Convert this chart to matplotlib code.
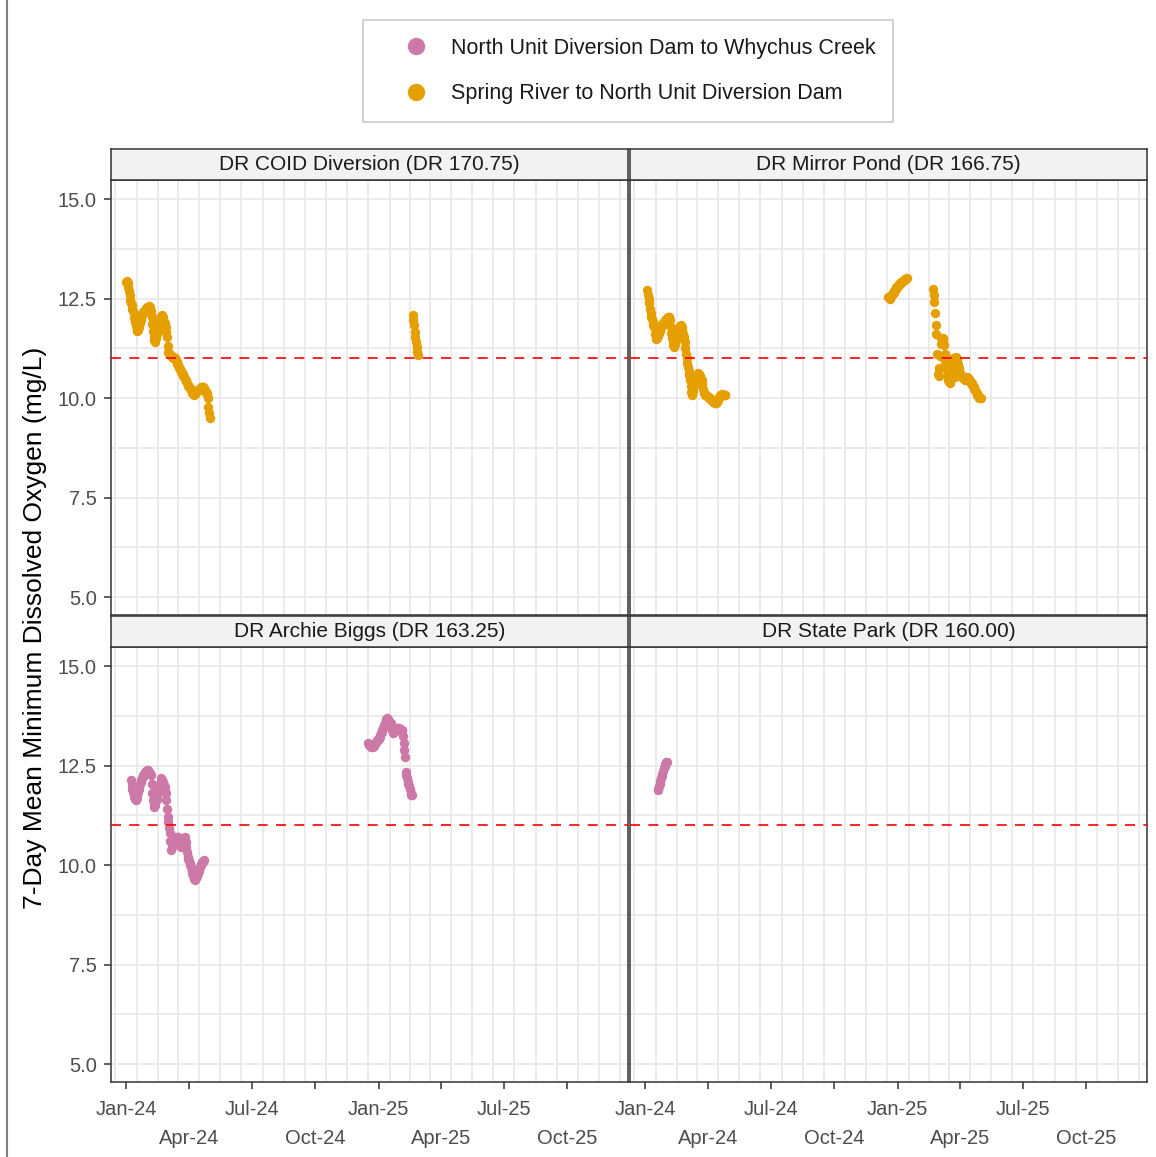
import matplotlib
matplotlib.use('Agg')
import matplotlib.pyplot as plt
from matplotlib.lines import Line2D
from matplotlib.ticker import FixedLocator
import matplotlib.dates as mdates
import pandas as pd

plt.rcParams['font.family'] = ['Liberation Sans', 'DejaVu Sans']

# reaches and colours
reach_nud = 'North Unit Diversion Dam to Whychus Creek'
reach_spr = 'Spring River to North Unit Diversion Dam'
reach_colors = {reach_nud: '#CC79A7', reach_spr: '#E69F00'}

site_names = ['DR COID Diversion (DR 170.75)', 'DR Mirror Pond (DR 166.75)',
              'DR Archie Biggs (DR 163.25)', 'DR State Park (DR 160.00)']
site_reach = [reach_spr, reach_spr, reach_nud, reach_nud]

do_criterion = 11.0

# 7-day mean minimum DO (mg/L), one list per run of consecutive days
coid_2024_start = '2024-01-01'
coid_2024 = [12.92, 12.95, 12.88, 12.80, 12.70, 12.58, 12.46, 12.40, 12.33, 12.25, 12.18,
             12.13, 12.02, 11.90, 11.80, 11.71, 11.68, 11.72, 11.78, 11.84, 11.88,
             11.95, 12.02, 12.08, 12.12, 12.16, 12.19, 12.21, 12.24, 12.27, 12.28,
             12.30, 12.29, 12.31, 12.27, 12.29, 12.20, 12.04, 11.85, 11.68, 11.54,
             11.45, 11.41, 11.50, 11.60, 11.68, 11.74, 11.79, 11.86, 11.94, 12.02,
             12.06, 12.09, 12.05, 11.98, 11.92, 11.88, 11.78, 11.66, 11.54, 11.32,
             11.16, 11.12, 11.10, 11.08, 11.05, 11.06, 11.03, 11.01, 11.00, 11.02,
             11.00, 10.95, 10.90, 10.86, 10.82, 10.79, 10.76, 10.72, 10.69, 10.66,
             10.63, 10.60, 10.56, 10.52, 10.48, 10.45, 10.42, 10.38, 10.34, 10.31,
             10.28, 10.26, 10.25, 10.20, 10.16, 10.12, 10.10, 10.08, 10.10, 10.13,
             10.15, 10.17, 10.19, 10.20, 10.20, 10.22, 10.24, 10.25, 10.27, 10.28,
             10.29, 10.28, 10.25, 10.20, 10.16, 10.14, 10.12, 10.00, 9.78, 9.62, 9.50]
coid_2025_start = '2025-02-19'
coid_2025 = [12.09, 11.96, 11.83, 11.67, 11.54, 11.41, 11.29, 11.16, 11.08]

mirror_2024_start = '2024-01-04'
mirror_2024 = [12.71, 12.60, 12.48, 12.38, 12.25, 12.13, 12.05, 11.98, 11.90, 11.84,
               11.79, 11.62, 11.50, 11.48, 11.52, 11.56, 11.60, 11.63, 11.68, 11.73,
               11.78, 11.82, 11.86, 11.89, 11.91, 11.92, 11.95, 11.97, 12.00, 12.02,
               12.03, 12.04, 12.04, 11.95, 11.79, 11.64, 11.52, 11.42, 11.34, 11.29,
               11.36, 11.45, 11.55, 11.64, 11.71, 11.75, 11.78, 11.80, 11.82, 11.83,
               11.78, 11.70, 11.62, 11.54, 11.40, 11.26, 11.12, 11.00, 10.87, 10.78,
               10.68, 10.57, 10.45, 10.30, 10.15, 10.08, 10.18, 10.30, 10.40, 10.45,
               10.48, 10.52, 10.56, 10.60, 10.62, 10.60, 10.56, 10.52, 10.48, 10.45,
               10.35, 10.22, 10.12, 10.10, 10.08, 10.07, 10.06, 10.05, 10.04, 10.03,
               10.01, 9.99, 9.97, 9.95, 9.93, 9.91, 9.90, 9.89, 9.88, 9.87,
               9.87, 9.90, 9.94, 9.98, 10.02, 10.06, 10.08, 10.09, 10.10, 10.09,
               10.08, 10.07, 10.08, 10.08]
mirror_winter_start = '2024-12-18'
mirror_winter = [12.55, 12.52, 12.50, 12.54, 12.57, 12.60, 12.62, 12.63, 12.65, 12.68,
                 12.72, 12.75, 12.78, 12.80, 12.82, 12.84, 12.86, 12.88, 12.90, 12.92,
                 12.92, 12.94, 12.95, 12.97, 12.98, 13.00, 12.99, 13.01]
mirror_2025_start = '2025-02-21'
mirror_2025 = [12.73, 12.58, 12.42, 12.13, 11.83, 11.60, 11.10, 10.60, 10.55, 10.75,
               11.05, 11.35, 11.50, 11.48, 11.52, 11.45, 11.33, 11.10, 10.92, 10.85,
               10.70, 10.55, 10.45, 10.40, 10.37, 10.45, 10.60, 10.80, 10.95, 11.00,
               10.90, 10.65, 10.52, 10.80, 11.04, 10.98, 10.85, 10.75, 10.70, 10.62,
               10.58, 10.55, 10.54, 10.52, 10.50, 10.48, 10.46, 10.47, 10.50, 10.52,
               10.50, 10.49, 10.48, 10.44, 10.40, 10.38, 10.37, 10.34, 10.30, 10.27,
               10.24, 10.20, 10.16, 10.12, 10.08, 10.05, 10.03, 10.01, 10.00, 9.99]

biggs_2024_start = '2024-01-08'
biggs_2024 = [12.14, 12.02, 11.92, 11.84, 11.78, 11.72, 11.66, 11.63, 11.68, 11.75,
              11.84, 11.92, 11.97, 12.03, 12.08, 12.13, 12.18, 12.22, 12.26, 12.30,
              12.33, 12.35, 12.37, 12.38, 12.39, 12.37, 12.34, 12.31, 12.29, 12.26,
              12.05, 11.82, 11.63, 11.52, 11.46, 11.52, 11.60, 11.66, 11.73, 11.80,
              11.88, 11.97, 12.05, 12.12, 12.18, 12.14, 12.10, 12.05, 12.01, 11.97,
              11.80, 11.63, 11.42, 11.21, 11.08, 10.94, 10.80, 10.60, 10.38, 10.45,
              10.52, 10.58, 10.61, 10.63, 10.66, 10.68, 10.70, 10.71, 10.71, 10.66,
              10.60, 10.54, 10.50, 10.46, 10.50, 10.56, 10.62, 10.68, 10.71, 10.58,
              10.45, 10.33, 10.21, 10.15, 10.10, 10.05, 10.00, 9.96, 9.88, 9.80,
              9.72, 9.66, 9.62, 9.64, 9.68, 9.72, 9.76, 9.79, 9.84, 9.89,
              9.94, 9.99, 10.04, 10.07, 10.09, 10.11, 10.13]
biggs_winter_start = '2024-12-17'
biggs_winter = [13.06, 13.02, 12.98, 12.96, 12.99, 13.02, 12.99, 12.97, 13.00, 13.04,
                13.07, 13.10, 13.12, 13.14, 13.16, 13.18, 13.22, 13.27, 13.31, 13.35,
                13.40, 13.44, 13.47, 13.52, 13.57, 13.62, 13.66, 13.69, 13.67, 13.63,
                13.60, 13.58, 13.56, 13.48, 13.40, 13.34, 13.31, 13.34, 13.38, 13.41,
                13.43, 13.44, 13.45, 13.45, 13.44, 13.43, 13.42, 13.40, 13.39, 13.39,
                13.25, 13.06, 12.90, 12.72, 12.34, 12.26, 12.18, 12.10, 12.05, 11.98,
                11.90, 11.82, 11.76, 11.76]

statepark_2024_start = '2024-01-19'
statepark_2024 = [11.88, 11.92, 11.98, 12.05, 12.12, 12.18, 12.24, 12.30, 12.36, 12.43,
                  12.48, 12.54, 12.58, 12.60]

site_runs = [
    [(coid_2024_start, coid_2024), (coid_2025_start, coid_2025)],
    [(mirror_2024_start, mirror_2024), (mirror_winter_start, mirror_winter),
     (mirror_2025_start, mirror_2025)],
    [(biggs_2024_start, biggs_2024), (biggs_winter_start, biggs_winter)],
    [(statepark_2024_start, statepark_2024)],
]

W, H = 1156, 1157
fig = plt.figure(figsize=(W / 100, H / 100), dpi=100)


def fbox(x0, y0, x1, y1):
    # pixel box (top-left origin) -> figure fraction rect
    return [x0 / W, 1 - y1 / H, (x1 - x0) / W, (y1 - y0) / H]


panel_px = [(111, 180, 628, 615), (630, 180, 1147, 615),
            (111, 647, 628, 1082), (630, 647, 1147, 1082)]

x_lo, x_hi = pd.Timestamp('2023-12-10'), pd.Timestamp('2025-12-28')
qtr_ticks = pd.date_range('2024-01-01', '2025-10-01', freq='QS')
qtr_labels = [d.strftime('%b-%y') if i % 2 == 0 else '\n' + d.strftime('%b-%y')
              for i, d in enumerate(qtr_ticks)]
month_starts = pd.date_range('2023-11-01', '2026-01-01', freq='MS')
month_mids = month_starts[:-1] + (month_starts[1:] - month_starts[:-1]) / 2
y_major = [5.0, 7.5, 10.0, 12.5, 15.0]
y_minor = [6.25, 8.75, 11.25, 13.75]

for i, (x0, y0, x1, y1) in enumerate(panel_px):
    ax = fig.add_axes(fbox(x0, y0, x1, y1))
    col = reach_colors[site_reach[i]]
    for start, vals in site_runs[i]:
        dates = pd.date_range(start, periods=len(vals), freq='D')
        ax.scatter(dates, vals, s=46, color=col, linewidths=0, zorder=3)
    ax.axhline(do_criterion, color='red', lw=1.2, ls=(0, (6, 5)), zorder=4)

    ax.set_xlim(x_lo, x_hi)
    ax.set_ylim(4.55, 15.48)
    ax.set_xticks(qtr_ticks)
    ax.set_xticklabels(qtr_labels, linespacing=1.62)
    ax.xaxis.set_minor_locator(FixedLocator(mdates.date2num(month_mids)))
    ax.set_yticks(y_major)
    ax.set_yticklabels([f'{v:.1f}' for v in y_major])
    ax.yaxis.set_minor_locator(FixedLocator(y_minor))
    ax.grid(False)
    ax.grid(True, which='minor', axis='x', color='#E8E8E8', lw=1.2)
    ax.grid(True, which='both', axis='y', color='#E8E8E8', lw=1.2)
    ax.set_axisbelow(True)
    ax.tick_params(which='major', length=4.8, width=1.1, color='#333333',
                   labelcolor='#4D4D4D', labelsize=14.5, pad=5.5)
    ax.tick_params(axis='x', which='major', pad=8.5)
    ax.tick_params(which='minor', length=0)
    if i % 2 == 1:
        ax.tick_params(left=False, labelleft=False)
    if i < 2:
        ax.tick_params(bottom=False, labelbottom=False)
    for sp in ax.spines.values():
        sp.set_color('#333333')
        sp.set_linewidth(1.1)

    # facet strip
    sax = fig.add_axes(fbox(x0, y0 - 31, x1, y0))
    sax.set_facecolor('#F2F2F2')
    sax.set_xticks([])
    sax.set_yticks([])
    for sp in sax.spines.values():
        sp.set_color('#333333')
        sp.set_linewidth(1.1)
    sax.text(0.5, 0.5, site_names[i], ha='center', va='center',
             fontsize=15, color='#1A1A1A', transform=sax.transAxes)

fig.text(35 / W, 1 - 628 / H, '7-Day Mean Minimum Dissolved Oxygen (mg/L)',
         rotation=90, ha='center', va='center', fontsize=19, color='black')

handles = [Line2D([], [], ls='', marker='o', markersize=12.5, markeredgewidth=0,
                  color=reach_colors[r]) for r in [reach_nud, reach_spr]]
leg = fig.legend(handles, [reach_nud, reach_spr], loc='upper center',
                 bbox_to_anchor=(628 / W, 1 - 20 / H), borderaxespad=0,
                 fontsize=15.5, frameon=True, fancybox=False, borderpad=0.82,
                 labelspacing=1.15, handlelength=3.3, handletextpad=0.0)
leg.get_frame().set_edgecolor('#BDBDBD')
leg.get_frame().set_linewidth(1.2)
for t in leg.get_texts():
    t.set_color('#1A1A1A')

fig.add_artist(Line2D([7 / W, 7 / W], [0, 1], color='#7F7F7F', lw=1.5,
                      transform=fig.transFigure))

fig.savefig('out.png', dpi=100)
